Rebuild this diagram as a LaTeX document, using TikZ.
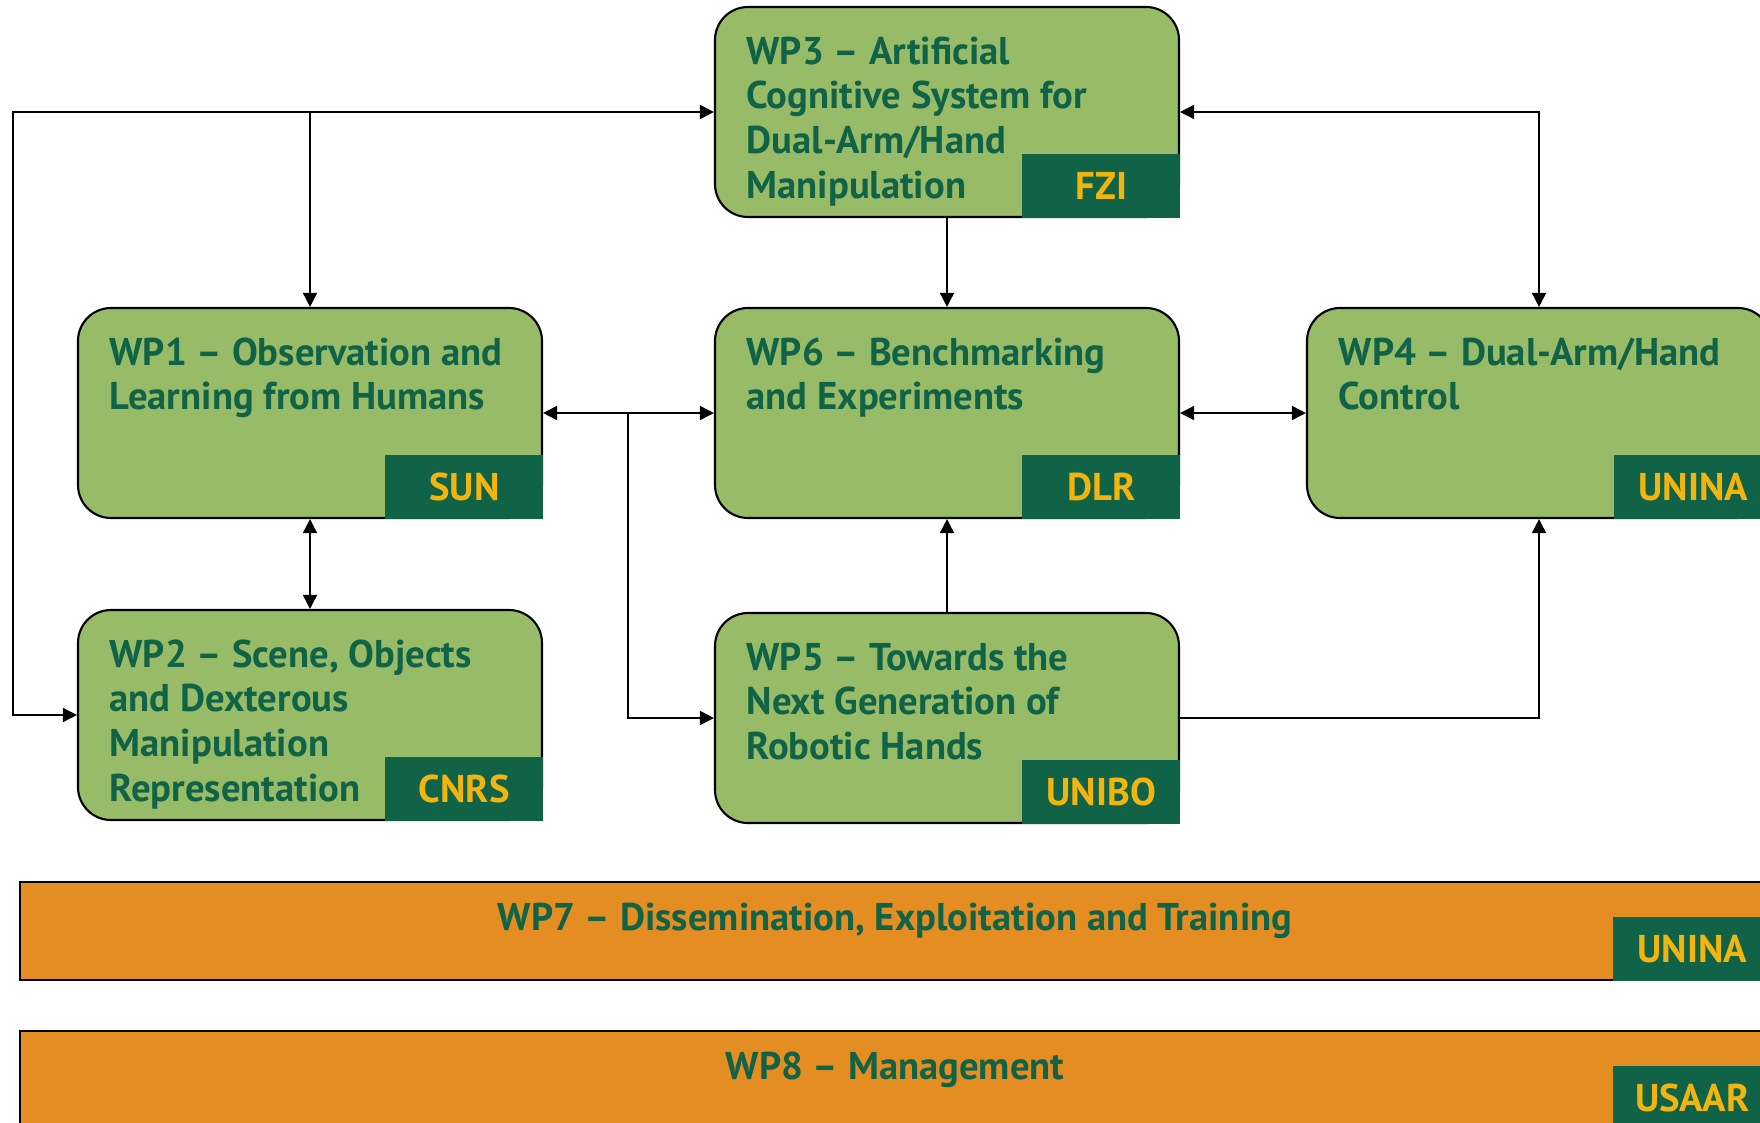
\documentclass[tikz,border=0pt]{standalone}
\usepackage{fontspec}
\setmainfont{PT Sans}
\usepackage{tikz}
\usetikzlibrary{positioning,arrows.meta}
\definecolor{wpgreen}{RGB}{151,187,102}
\definecolor{wpdark}{RGB}{17,99,72}
\definecolor{wpgold}{RGB}{242,181,15}
\definecolor{wporange}{RGB}{227,141,34}

\begin{document}
\begin{tikzpicture}[x=0.1mm,y=-0.1mm,font=\fontsize{11}{12.7}\selectfont\bfseries,>={Triangle[length=1.4mm,width=1.4mm]}]
        \tikzstyle{wp box}=[rectangle,draw,line width=0.6pt,fill=wpgreen,rounded corners=3.3mm,minimum width=46.4mm,minimum height=21mm,inner sep=0]
        \tikzstyle{wp bar}=[rectangle,draw,line width=0.6pt,fill=wporange,minimum width=175mm,minimum height=9.8mm,inner sep=0]
        \tikzstyle{wp title}=[text=wpdark,align=left,inner sep=0]
        \tikzstyle{lead}=[rectangle,fill=wpdark,text=wpgold,minimum width=15.8mm,minimum height=6.4mm,inner sep=0,anchor=south east,xshift=0.1mm,yshift=-0.1mm]
        \tikzstyle{wp link}=[line width=0.45pt]

        \useasboundingbox (0,0) rectangle (1760,1122);
        \clip (0,0) rectangle (1760,1122);

        % work packages
        \node[wp box] (wp3) at (947,112) {};
        \node[wp box] (wp1) at (310,413) {};
        \node[wp box] (wp6) at (947,413) {};
        \node[wp box] (wp4) at (1539,413) {};
        \node[wp box] (wp2) at (310,715) {};
        \node[wp box] (wp5) at (947,718) {};
        \node[wp bar] (wp7) at (895,931) {};
        \node[wp bar] (wp8) at (895,1080) {};

        \node[wp title,below right=3mm and 3.2mm of wp3.north west] (wp3 text) {WP3 – Artificial\\Cognitive System for\\Dual-Arm/Hand\\Manipulation};
        \node[wp title,below right=3mm and 3.2mm of wp1.north west] (wp1 text) {WP1 – Observation and\\Learning from Humans};
        \node[wp title,below right=3mm and 3.2mm of wp6.north west] (wp6 text) {WP6 – Benchmarking\\and Experiments};
        \node[wp title,below right=3mm and 3.2mm of wp4.north west] (wp4 text) {WP4 – Dual-Arm/Hand\\Control};
        \node[wp title,below right=3mm and 3.2mm of wp2.north west] (wp2 text) {WP2 – Scene, Objects\\and Dexterous\\Manipulation\\Representation};
        \node[wp title,below right=3mm and 3.2mm of wp5.north west] (wp5 text) {WP5 – Towards the\\Next Generation of\\Robotic Hands};
        \node[wp title,below=2.1mm of wp7.north] (wp7 text) {WP7 – Dissemination, Exploitation and Training};
        \node[wp title,below=2.1mm of wp8.north] (wp8 text) {WP8 – Management};

        % leaders
        \node[lead] (fzi) at (wp3.south east) {FZI};
        \node[lead] (sun) at (wp1.south east) {SUN};
        \node[lead] (dlr) at (wp6.south east) {DLR};
        \node[lead] (unina) at (wp4.south east) {UNINA};
        \node[lead] (cnrs) at (wp2.south east) {CNRS};
        \node[lead] (unibo) at (wp5.south east) {UNIBO};
        \node[lead] (unina7) at (wp7.south east) {UNINA};
        \node[lead] (usaar) at (wp8.south east) {USAAR};

        % links
        \coordinate (j1) at (wp1.north |- wp3.west);
        \coordinate (j2) at (13,112);
        \coordinate (j3) at (wp4.north |- wp3.east);
        \coordinate (j4) at (628,413);

        \draw[wp link,->] (j1) -- (wp3.west);
        \draw[wp link,->] (j1) -- (wp1.north);
        \draw[wp link,->] (j1) -- (j2) |- (wp2.west);
        \draw[wp link,->] (wp3.south) -- (wp6.north);
        \draw[wp link,<->] (wp3.east) -- (j3) -- (wp4.north);
        \draw[wp link,<->] (wp1.east) -- (wp6.west);
        \draw[wp link,->] (j4) |- (wp5.west);
        \draw[wp link,<->] (wp1.south) -- (wp2.north);
        \draw[wp link,<->] (wp6.east) -- (wp4.west);
        \draw[wp link,->] (wp5.north) -- (wp6.south);
        \draw[wp link,->] (wp5.east) -| (wp4.south);
\end{tikzpicture}
\end{document}
